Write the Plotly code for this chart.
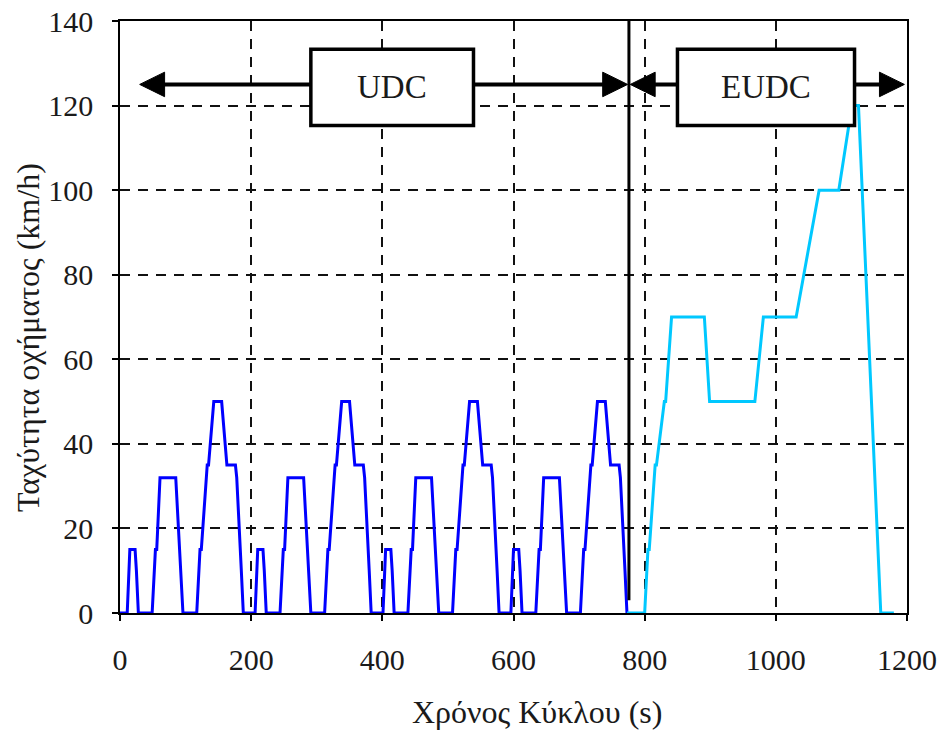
import plotly.graph_objects as go

# UDC (4 x ECE-15 cycles)
udc_t = [0, 11, 15, 23, 25, 28, 49, 54, 56, 61, 85, 93, 96, 117, 122, 124, 133, 135, 143, 155, 163, 176, 178, 185, 188,
         195, 206, 210, 218, 220, 223, 244, 249, 251, 256, 280, 288, 291, 312, 317, 319, 328, 330, 338, 350, 358, 371, 373, 380, 383,
         390, 401, 405, 413, 415, 418, 439, 444, 446, 451, 475, 483, 486, 507, 512, 514, 523, 525, 533, 545, 553, 566, 568, 575, 578,
         585, 596, 600, 608, 610, 613, 634, 639, 641, 646, 670, 678, 681, 702, 707, 709, 718, 720, 728, 740, 748, 761, 763, 770, 773]
udc_v = [0, 0, 15, 15, 10, 0, 0, 15, 15, 32, 32, 10, 0, 0, 15, 15, 35, 35, 50, 50, 35, 35, 32, 10, 0,
         0, 0, 15, 15, 10, 0, 0, 15, 15, 32, 32, 10, 0, 0, 15, 15, 35, 35, 50, 50, 35, 35, 32, 10, 0,
         0, 0, 15, 15, 10, 0, 0, 15, 15, 32, 32, 10, 0, 0, 15, 15, 35, 35, 50, 50, 35, 35, 32, 10, 0,
         0, 0, 15, 15, 10, 0, 0, 15, 15, 32, 32, 10, 0, 0, 15, 15, 35, 35, 50, 50, 35, 35, 32, 10, 0]

# EUDC
eudc_t = [773, 800, 805, 807, 816, 818, 830, 832, 841, 891, 899, 968, 981, 1031, 1066, 1096, 1116, 1126, 1160, 1180]
eudc_v = [0, 0, 15, 15, 35, 35, 50, 50, 70, 70, 50, 50, 70, 70, 100, 100, 120, 120, 0, 0]

x_ticks = [0, 200, 400, 600, 800, 1000, 1200]
y_ticks = [0, 20, 40, 60, 80, 100, 120, 140]

segment_labels = ["UDC", "EUDC"]
x_title = "Χρόνος Κύκλου (s)"
y_title = "Ταχύτητα οχήματος (km/h)"

# annotation geometry (layout, data units)
divider_x = 776
arrow_y = 125
udc_arrow = (30, 774)
eudc_arrow = (778, 1196)
udc_box = (291, 539)
eudc_box = (850, 1120)
box_y = (115.3, 133.3)
head_len = 38
head_half = 2.9

FONT = "Liberation Serif, Times New Roman, Times, serif"
TXT = "#1a1a1a"

fig = go.Figure()
fig.add_trace(go.Scatter(x=udc_t, y=udc_v, mode="lines",
                         line=dict(color="#0000FF", width=3), showlegend=False))
fig.add_trace(go.Scatter(x=eudc_t, y=eudc_v, mode="lines",
                         line=dict(color="#00C8FF", width=3), showlegend=False))

shapes = []
shapes.append(dict(type="line", xref="x", yref="y", x0=divider_x, x1=divider_x, y0=3, y1=140,
                   line=dict(color="black", width=3), layer="above"))


def arrow(x0, x1):
    out = []
    out.append(dict(type="line", xref="x", yref="y", x0=x0 + head_len * 0.5, x1=x1 - head_len * 0.5,
                    y0=arrow_y, y1=arrow_y, line=dict(color="black", width=4), layer="above"))
    out.append(dict(type="path", xref="x", yref="y",
                    path=f"M {x0},{arrow_y} L {x0 + head_len},{arrow_y + head_half} L {x0 + head_len},{arrow_y - head_half} Z",
                    fillcolor="black", line=dict(color="black", width=1), layer="above"))
    out.append(dict(type="path", xref="x", yref="y",
                    path=f"M {x1},{arrow_y} L {x1 - head_len},{arrow_y + head_half} L {x1 - head_len},{arrow_y - head_half} Z",
                    fillcolor="black", line=dict(color="black", width=1), layer="above"))
    return out


shapes += arrow(*udc_arrow)
shapes += arrow(*eudc_arrow)
for bx in (udc_box, eudc_box):
    shapes.append(dict(type="rect", xref="x", yref="y", x0=bx[0], x1=bx[1], y0=box_y[0], y1=box_y[1],
                       fillcolor="white", line=dict(color="black", width=3.5), layer="above"))

annotations = []
for lbl, bx in zip(segment_labels, (udc_box, eudc_box)):
    annotations.append(dict(x=(bx[0] + bx[1]) / 2, y=(box_y[0] + box_y[1]) / 2, xref="x", yref="y",
                            text=lbl, showarrow=False, font=dict(family=FONT, size=33, color=TXT)))
# axis titles (paper coords relative to plot area)
annotations.append(dict(x=0.53, y=-0.167, xref="paper", yref="paper", text=x_title,
                        showarrow=False, xanchor="center", yanchor="middle",
                        font=dict(family=FONT, size=32, color=TXT)))
annotations.append(dict(x=-0.117, y=0.466, xref="paper", yref="paper", text=y_title,
                        showarrow=False, xanchor="center", yanchor="middle", textangle=-90,
                        font=dict(family=FONT, size=32, color=TXT)))

axis_common = dict(showline=True, linecolor="black", linewidth=1.5, mirror=True,
                   ticks="outside", ticklen=6, tickcolor="black", tickwidth=1.5,
                   showgrid=True, gridcolor="#111111", gridwidth=1.5, griddash="10px,8px",
                   zeroline=False, automargin=False,
                   tickfont=dict(family=FONT, size=30, color=TXT))

fig.update_layout(
    width=946, height=732,
    margin=dict(l=120, r=39, t=21, b=119),
    paper_bgcolor="white", plot_bgcolor="white",
    font=dict(family=FONT),
    shapes=shapes, annotations=annotations,
    xaxis=dict(range=[0, 1200], tickvals=x_ticks, ticklabelstandoff=13, **axis_common),
    yaxis=dict(range=[0, 140], tickvals=y_ticks, ticklabelstandoff=13, **axis_common),
)

fig.write_html("out.html")
